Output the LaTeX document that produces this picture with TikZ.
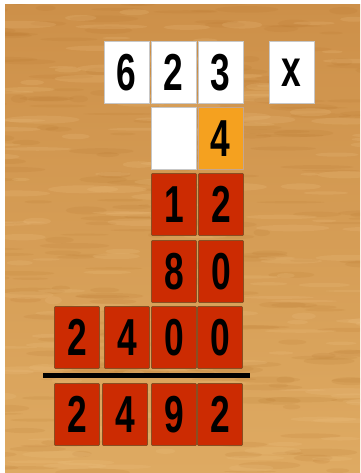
\documentclass[tikz,border=0pt]{standalone}
\usepackage{fontspec}
\setmainfont{Liberation Sans}
\definecolor{woodtop}{HTML}{CD9049}
\definecolor{woodbot}{HTML}{DEAA62}
\definecolor{wooddark}{HTML}{B37128}
\definecolor{woodlight}{HTML}{EEC283}
\definecolor{tilered}{HTML}{CC2B02}
\definecolor{tileedge}{HTML}{8A4E22}
\definecolor{tileorange}{HTML}{F5A11F}
\newcommand\dg[1]{\scalebox{0.68}[1]{#1}}
\tikzset{
  tile/.style={anchor=north west, inner sep=0pt, minimum width=45pt, minimum height=62pt,
    font=\fontsize{52}{52}\selectfont\bfseries, text=black},
  whitetile/.style={tile, fill=white, draw=black!22, line width=0.6pt},
  redtile/.style={tile, fill=tilered, draw=tileedge, line width=0.9pt, rounded corners=1pt},
  orangetile/.style={tile, fill=tileorange, draw=tileedge!50, line width=0.6pt},
  barline/.style={line width=5pt, black},
}
\begin{document}
\begin{tikzpicture}[x=1pt,y=-1pt]
\useasboundingbox (0,0) rectangle (360,473);
\fill[white] (0,0) rectangle (360,473);
\shade[top color=woodtop, bottom color=woodbot] (5,5) rectangle (360,473);
\begin{scope}
  \clip (5,5) rectangle (360,473);
  \pgfmathsetseed{11}
  \foreach \i in {1,...,260}{
    \pgfmathsetmacro\xx{rnd*400-20}
    \pgfmathsetmacro\yy{rnd*480}
    \pgfmathsetmacro\rx{8+rnd*30}
    \pgfmathsetmacro\ry{1+rnd*3}
    \fill[wooddark, opacity=0.13] (\xx,\yy) ellipse ({\rx} and {\ry});
  }
  \foreach \i in {1,...,160}{
    \pgfmathsetmacro\xx{rnd*400-20}
    \pgfmathsetmacro\yy{rnd*480}
    \pgfmathsetmacro\rx{8+rnd*30}
    \pgfmathsetmacro\ry{1+rnd*3}
    \fill[woodlight, opacity=0.2] (\xx,\yy) ellipse ({\rx} and {\ry});
  }
\end{scope}
% top row
\node[whitetile] (a1) at (104,41) {\dg{6}};
\node[whitetile] (a2) at (151,41) {\dg{2}};
\node[whitetile] (a3) at (198,41) {\dg{3}};
\node[whitetile] (ax) at (269,41) {\dg{x}};
% multiplier row
\node[whitetile] (b1) at (151,107) {};
\node[orangetile] (b2) at (198,107) {\dg{4}};
% partial products
\node[redtile] (c1) at (151,173) {\dg{1}};
\node[redtile] (c2) at (198,173) {\dg{2}};
\node[redtile] (d1) at (151,240) {\dg{8}};
\node[redtile] (d2) at (198,240) {\dg{0}};
\node[redtile] (e1) at (54,306) {\dg{2}};
\node[redtile] (e2) at (104,306) {\dg{4}};
\node[redtile] (e3) at (151,306) {\dg{0}};
\node[redtile] (e4) at (197,306) {\dg{0}};
% line
\coordinate (lL) at (43,375.5);
\coordinate (lR) at (250,375.5);
\draw[barline] (lL) -- (lR);
% result
\node[redtile] (f1) at (54,383) {\dg{2}};
\node[redtile] (f2) at (102,383) {\dg{4}};
\node[redtile] (f3) at (151,383) {\dg{9}};
\node[redtile] (f4) at (197,383) {\dg{2}};
\end{tikzpicture}
\end{document}
